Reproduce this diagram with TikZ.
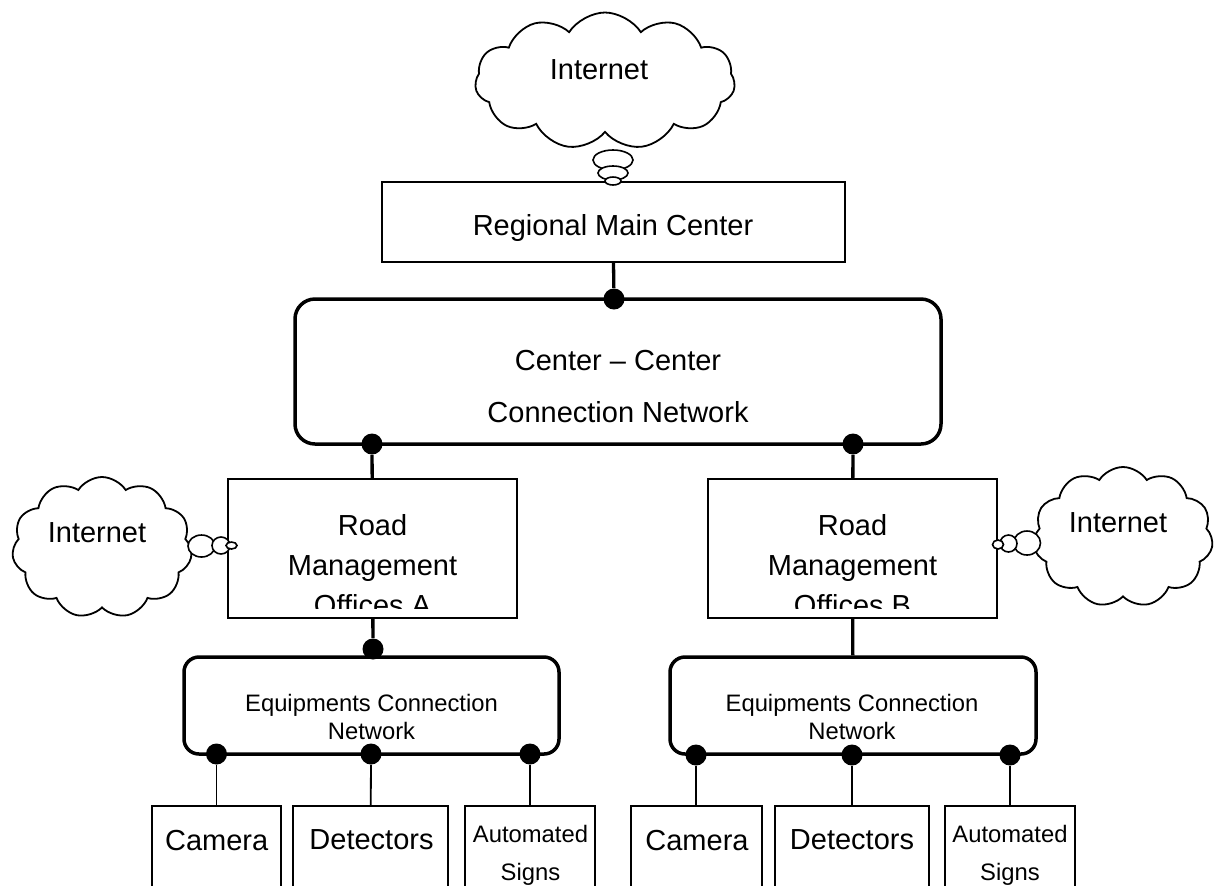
\documentclass[tikz,border=0pt]{standalone}
\usepackage{fontspec}
\setmainfont{Liberation Sans}
\usetikzlibrary{shapes.geometric,shapes.symbols,calc}
\tikzstyle{office} = [rectangle, draw, fill=white, line width=1pt, inner sep=0pt]
\tikzstyle{network} = [rectangle, draw, rounded corners=8pt, line width=1.75pt, inner sep=0pt]
\tikzstyle{device} = [rectangle, draw, line width=1pt, inner sep=0pt, minimum height=60pt]
\tikzstyle{internet} = [cloud, draw, fill=white, cloud puffs=11, cloud puff arc=115, cloud ignores aspect, line width=0.9pt, inner sep=0pt]
\tikzstyle{bubble} = [ellipse, draw, fill=white, line width=0.8pt, inner sep=0pt]
\tikzstyle{joint} = [circle, fill=black, inner sep=0pt, minimum size=10.5pt]
\tikzstyle{trunk} = [line width=1.65pt]
\tikzstyle{branch} = [line width=0.9pt]
\tikzstyle{bigtext} = [inner sep=0pt, align=center, font=\fontsize{14.5pt}{20pt}\selectfont]
\tikzstyle{smalltext} = [inner sep=0pt, align=center, font=\fontsize{11.9pt}{13.75pt}\selectfont]

\begin{document}
\begin{tikzpicture}[x=0.5pt, y=-0.5pt]
        \clip (0,0) rectangle (1215,885);
        % clouds
        \node (net-top) [internet, minimum width=130pt, minimum height=68.5pt] at (605,81) {};
        \node (net-a) [internet, minimum width=90pt, minimum height=70.5pt] at (102,547.5) {};
        \node (net-b) [internet, minimum width=90pt, minimum height=70pt] at (1123,537) {};
        \node (net-top-text) [bigtext] at (599,70) {Internet};
        \node (net-a-text) [bigtext] at (97,532.5) {Internet};
        \node (net-b-text) [bigtext] at (1118,522.5) {Internet};
        % boxes
        \node (regional) [office, minimum width=231.5pt, minimum height=40pt] at (613.5,222) {};
        \node (regional-text) [bigtext] at (613,228) {Regional Main Center};
        \node (ccnet) [network, rounded corners=10pt, minimum width=323pt, minimum height=72.5pt] at (618,371.5) {};
        \node (ccnet-text) [bigtext, font=\fontsize{14.5pt}{25.85pt}\selectfont] at (618,386.7) {Center -- Center\\Connection Network};
        \node (road-a) [office, minimum width=144.5pt, minimum height=69.5pt] at (372.5,548.5) {};
        \node (road-b) [office, minimum width=144.5pt, minimum height=69.5pt] at (852.5,548.5) {};
        \begin{scope}
            \clip (road-a.north west) rectangle ($(road-b.south east)+(0,-11)$);
            \node (road-a-text) [bigtext] at (372.5,565) {Road\\Management\\Offices A};
            \node (road-b-text) [bigtext] at (852.5,565) {Road\\Management\\Offices B};
        \end{scope}
        \node (equip-a) [network, rounded corners=7.5pt, minimum width=187.5pt, minimum height=48.5pt] at (371.5,705.5) {};
        \node (equip-b) [network, rounded corners=7.5pt, minimum width=183pt, minimum height=48.5pt] at (853,705.5) {};
        \node (equip-a-text) [smalltext] at (371.5,716.8) {Equipments Connection\\Network};
        \node (equip-b-text) [smalltext] at (852,716.8) {Equipments Connection\\Network};
        % field devices
        \node (cam-a) [device, minimum width=64.5pt] at (216.5,866) {};
        \node (det-a) [device, minimum width=77.5pt] at (370.5,866) {};
        \node (sign-a) [device, minimum width=65pt] at (530,866) {};
        \node (cam-b) [device, minimum width=65.5pt] at (696,866) {};
        \node (det-b) [device, minimum width=77pt] at (852,866) {};
        \node (sign-b) [device, minimum width=65pt] at (1010,866) {};
        \node (cam-a-text) [bigtext] at (216.7,840) {Camera};
        \node (det-a-text) [bigtext] at (371.5,840) {Detectors};
        \node (sign-a-text) [smalltext, font=\fontsize{11.9pt}{18.85pt}\selectfont] at (530.5,855.4) {Automated\\Signs};
        \node (cam-b-text) [bigtext] at (697,840) {Camera};
        \node (det-b-text) [bigtext] at (852,840) {Detectors};
        \node (sign-b-text) [smalltext, font=\fontsize{11.9pt}{18.85pt}\selectfont] at (1010,855.4) {Automated\\Signs};
        % joints
        \node (j-cc) [joint] at (614,299) {};
        \node (j-cc-a) [joint] at (372,444) {};
        \node (j-cc-b) [joint] at (853,444) {};
        \node (j-ea) [joint] at (373,649) {};
        \node (j-a1) [joint] at (216.5,754) {};
        \node (j-a2) [joint] at (371,754) {};
        \node (j-a3) [joint] at (530,754) {};
        \node (j-b1) [joint] at (696,755) {};
        \node (j-b2) [joint] at (852,755) {};
        \node (j-b3) [joint] at (1010,755) {};
        % links
        \draw [trunk] (regional.south) -- (j-cc);
        \draw [trunk] (j-cc-a) -- (road-a);
        \draw [trunk] (j-cc-b) -- (road-b);
        \draw [trunk] (road-a) -- (j-ea);
        \draw [trunk] (road-b) -- (equip-b);
        \draw [branch] (j-a1) -- (cam-a);
        \draw [branch] (j-a2) -- (det-a);
        \draw [branch] (j-a3) -- (sign-a);
        \draw [branch] (j-b1) -- (cam-b);
        \draw [branch] (j-b2) -- (det-b);
        \draw [branch] (j-b3) -- (sign-b);
        % thought bubbles
        \node (bub-top1) [bubble, minimum width=20pt, minimum height=10pt] at (613,160) {};
        \node (bub-top2) [bubble, minimum width=15pt, minimum height=7pt] at (613,173) {};
        \node (bub-top3) [bubble, minimum width=8pt, minimum height=4pt] at (613,181) {};
        \node (bub-a1) [bubble, minimum width=13.5pt, minimum height=11pt] at (201.5,546) {};
        \node (bub-a2) [bubble, minimum width=9pt, minimum height=8.5pt] at (221,545.5) {};
        \node (bub-a3) [bubble, minimum width=5.5pt, minimum height=3.5pt] at (231.5,545.5) {};
        \node (bub-b1) [bubble, minimum width=13.5pt, minimum height=12pt] at (1027,543) {};
        \node (bub-b2) [bubble, minimum width=8.5pt, minimum height=8.5pt] at (1008.5,543.5) {};
        \node (bub-b3) [bubble, minimum width=5.5pt, minimum height=4.5pt] at (998,544.5) {};
    \end{tikzpicture}
\end{document}
